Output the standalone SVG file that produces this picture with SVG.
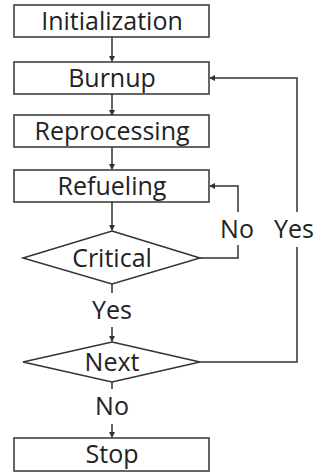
<svg xmlns="http://www.w3.org/2000/svg" width="323" height="473" viewBox="0 0 323 473">
<style>
.box{fill:#fff;stroke:#333;stroke-width:1.5}
.t{font-family:"Open Sans","Liberation Sans",sans-serif;font-size:25px;fill:#222;text-anchor:middle;dominant-baseline:central}
.c{fill:none;stroke:#333;stroke-width:1.5}
</style>
<defs>
<marker id="a" markerWidth="6" markerHeight="6" refX="5" refY="3" orient="auto" markerUnits="userSpaceOnUse"><path d="M0,0 L6,3 L0,6 Z" fill="#333"/></marker>
</defs>
<rect width="323" height="473" fill="#fff"/>
<g id="connectors">
<path class="c" d="M112,37 V61" marker-end="url(#a)"/>
<path class="c" d="M112,94 V115" marker-end="url(#a)"/>
<path class="c" d="M112,147 V169" marker-end="url(#a)"/>
<path class="c" d="M112,202 V230" marker-end="url(#a)"/>
<path class="c" d="M200,258 H238 V245 M238,212 V186 H210" marker-end="url(#a)"/>
<path class="c" d="M112,284 V293"/>
<path class="c" d="M112,327 V341" marker-end="url(#a)"/>
<path class="c" d="M200,362 H297 V247 M297,212 V78 H210" marker-end="url(#a)"/>
<path class="c" d="M112,382 V389"/>
<path class="c" d="M112,424 V437" marker-end="url(#a)"/>
<text class="t" x="237" y="228">No</text>
<text class="t" x="294" y="228">Yes</text>
<text class="t" x="112" y="309">Yes</text>
<text class="t" x="112" y="405">No</text>
</g>
<g id="init"><rect class="box" x="14" y="5" width="195" height="32"/><text class="t" x="112" y="20">Initialization</text></g>
<g id="burnup"><rect class="box" x="14" y="62" width="195" height="32"/><text class="t" x="112" y="77">Burnup</text></g>
<g id="repro"><rect class="box" x="14" y="115" width="195" height="32"/><text class="t" x="112" y="130">Reprocessing</text></g>
<g id="refuel"><rect class="box" x="14" y="170" width="195" height="32"/><text class="t" x="112" y="185">Refueling</text></g>
<g id="critical"><polygon class="box" points="112,231 200,258 112,284 23,258"/><text class="t" x="112" y="257">Critical</text></g>
<g id="next"><polygon class="box" points="112,342 200,362 112,382 23,362"/><text class="t" x="112" y="361">Next</text></g>
<g id="stop"><rect class="box" x="14" y="438" width="195" height="33"/><text class="t" x="112" y="453">Stop</text></g>
</svg>
